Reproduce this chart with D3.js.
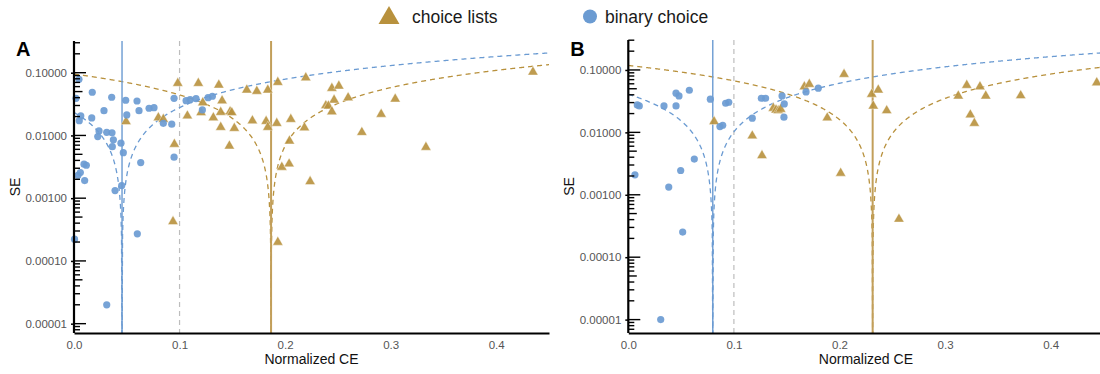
<!DOCTYPE html>
<html>
<head>
<meta charset="utf-8">
<script src="https://cdn.jsdelivr.net/npm/d3@7"></script>
<style>
  body { margin: 0; background: #fff; }
  text { font-family: "Liberation Sans", Arial, sans-serif; }
</style>
</head>
<body>
<script>
var width = 1100
var height = 374

// [normalized CE, SE]
var aBinary = [
  [0.0047, 0.0785], [0.0019, 0.0391], [0.0173, 0.0488], [0.0357, 0.0406], [0.049, 0.0364],
  [0.0597, 0.0354], [0.0064, 0.0205], [0.005, 0.0172], [0.0168, 0.019], [0.0284, 0.0248],
  [0.05, 0.0212], [0.0616, 0.0248], [0.0711, 0.0271], [0.0758, 0.0277], [0.0846, 0.0156],
  [0.0926, 0.0151], [0.0948, 0.0391], [0.0237, 0.0118], [0.0225, 0.0096], [0.031, 0.0112],
  [0.036, 0.011], [0.0373, 0.0085], [0.0363, 0.00663], [0.0445, 0.00752], [0.0467, 0.00532],
  [0.0095, 0.00348], [0.0117, 0.00335], [0.006, 0.00256], [0.0038, 0.00232], [0.0101, 0.00191],
  [0.0632, 0.00369], [0.0948, 0.0045], [0.0452, 0.00159], [0.0389, 0.00132], [0.1062, 0.0358],
  [0.11, 0.0372], [0.1156, 0.0385], [0.1216, 0.0255], [0.127, 0.04], [0.1311, 0.0421],
  [0.06, 0.00027], [0.031, 0.00002], [0.0005, 0.000222]
]
var aLists = [
  [0.0493, 0.0166], [0.0799, 0.0192], [0.0846, 0.0181], [0.0983, 0.0678], [0.1178, 0.0678],
  [0.1372, 0.0637], [0.1403, 0.0358], [0.122, 0.0333], [0.1074, 0.0205], [0.1204, 0.0231],
  [0.132, 0.0192], [0.139, 0.0234], [0.1479, 0.0239], [0.1495, 0.0231], [0.139, 0.0135],
  [0.1519, 0.013], [0.1472, 0.00681], [0.1637, 0.0531], [0.1732, 0.0506], [0.1836, 0.0531],
  [0.1931, 0.0703], [0.169, 0.0172], [0.182, 0.0168], [0.1836, 0.0135], [0.1921, 0.0156],
  [0.0951, 0.00725], [0.2196, 0.0832], [0.2443, 0.0565], [0.2509, 0.0614], [0.2464, 0.0367],
  [0.2597, 0.04], [0.2386, 0.0299], [0.241, 0.0295], [0.2443, 0.0239], [0.3043, 0.0381],
  [0.291, 0.0218], [0.4348, 0.1026], [0.2054, 0.0181], [0.2183, 0.0133], [0.2727, 0.0112],
  [0.2041, 0.00817], [0.3334, 0.00649], [0.1969, 0.00312], [0.2038, 0.00352], [0.2237, 0.00184],
  [0.1931, 0.000199], [0.0938, 0.000424]
]
var bBinary = [
  [0.0063, 0.00209], [0.0085, 0.0275], [0.0104, 0.0265], [0.0338, 0.0265], [0.0452, 0.0424],
  [0.048, 0.0384], [0.0578, 0.0473], [0.0452, 0.0265], [0.0777, 0.034], [0.0922, 0.0293],
  [0.0951, 0.0304], [0.0868, 0.0124], [0.0894, 0.013], [0.0625, 0.00373], [0.0496, 0.00245],
  [0.0383, 0.00133], [0.126, 0.0352], [0.13, 0.0352], [0.1174, 0.0169], [0.1456, 0.0384],
  [0.1477, 0.0286], [0.1474, 0.0175], [0.1683, 0.0445], [0.1799, 0.051], [0.0515, 0.000253],
  [0.0307, 0.00001]
]
var bLists = [
  [0.0812, 0.0149], [0.1174, 0.00879], [0.1266, 0.00425], [0.1373, 0.0244], [0.1399, 0.0229],
  [0.142, 0.0223], [0.1443, 0.0235], [0.1667, 0.054], [0.1714, 0.059], [0.1884, 0.0171],
  [0.2011, 0.00222], [0.2043, 0.0853], [0.2305, 0.0409], [0.2367, 0.0479], [0.232, 0.0265],
  [0.2447, 0.0223], [0.3205, 0.0569], [0.333, 0.054], [0.3125, 0.0384], [0.3385, 0.0384],
  [0.3716, 0.0388], [0.3239, 0.0191], [0.3277, 0.014], [0.4436, 0.0626], [0.2563, 0.000408]
]

// estimated means (solid verticals); dashed funnels are mean +/- 1.96 SE
var meansA = [0.0455, 0.1867]   // binary, lists
var meansB = [0.080, 0.2314]
var refLine = 0.1
var xTicks = [0, 0.1, 0.2, 0.3, 0.4]
var yTicks = [0.00001, 0.0001, 0.001, 0.01, 0.1]
var legendLabels = ['choice lists', 'binary choice']

var blue = '#6b9bd2'
var gold = '#b8913d'

var svg = d3.select('body').append('svg')
    .attr('width', width)
    .attr('height', height)

// legend
var leg = svg.append('g')
leg.append('path')
    .attr('d', d3.symbol(d3.symbolTriangle, 190)())
    .attr('transform', 'translate(389,18)')
    .attr('fill', gold)
leg.append('text').attr('x', 412).attr('y', 23).attr('font-size', 17.5).attr('fill', '#1a1a1a').text(legendLabels[0])
leg.append('circle').attr('cx', 590).attr('cy', 16.5).attr('r', 7).attr('fill', blue)
leg.append('text').attr('x', 605).attr('y', 23).attr('font-size', 17.5).attr('fill', '#1a1a1a').text(legendLabels[1])

var panels = [
  { name: 'A', left: 74, right: 549, top: 41, bottom: 333, yDom: [7.1e-6, 0.32], binary: aBinary, lists: aLists, means: meansA },
  { name: 'B', left: 628.3, right: 1103.5, top: 40, bottom: 333, yDom: [6.1e-6, 0.302], binary: bBinary, lists: bLists, means: meansB }
]

panels.forEach(function(p, pi) {
  var x = d3.scaleLinear().domain([0, 0.45]).range([p.left, p.right])
  var y = d3.scaleLog().domain(p.yDom).range([p.bottom, p.top])
  var g = svg.append('g')

  g.append('clipPath').attr('id', 'clip' + pi)
    .append('rect')
    .attr('x', p.left).attr('y', p.top)
    .attr('width', p.right - p.left).attr('height', p.bottom - p.top)

  var plot = g.append('g').attr('clip-path', 'url(#clip' + pi + ')')

  // dashed reference at 0.1
  plot.append('line')
      .attr('x1', x(refLine)).attr('x2', x(refLine))
      .attr('y1', p.top).attr('y2', p.bottom)
      .attr('stroke', '#bdbdbd').attr('stroke-width', 1.2)
      .attr('stroke-dasharray', '5,4')

  // funnel curves
  var funnel = function(mu) {
    var pts = []
    var xs = d3.range(0, 0.4501, 0.0005).concat([mu]).sort(d3.ascending)
    xs.forEach(function(v) {
      var se = Math.abs(v - mu) / 1.96
      pts.push([v, Math.max(se, p.yDom[0] * 0.5)])
    })
    return pts
  }
  var line = d3.line().x(d => x(d[0])).y(d => y(d[1]))
  var colors = [blue, gold]
  p.means.forEach(function(mu, i) {
    plot.append('path')
        .attr('d', line(funnel(mu)))
        .attr('fill', 'none')
        .attr('stroke', colors[i])
        .attr('stroke-width', 1.3)
        .attr('stroke-dasharray', '5,4')
  })

  // solid mean lines
  plot.append('line')
      .attr('x1', x(p.means[0])).attr('x2', x(p.means[0]))
      .attr('y1', p.top).attr('y2', p.bottom)
      .attr('stroke', blue).attr('stroke-width', 1.4)
  plot.append('line')
      .attr('x1', x(p.means[1])).attr('x2', x(p.means[1]))
      .attr('y1', p.top).attr('y2', p.bottom)
      .attr('stroke', '#c29f5a').attr('stroke-width', 2)

  // points
  g.append('g').selectAll('path')
    .data(p.lists).enter().append('path')
      .attr('d', d3.symbol(d3.symbolTriangle, 46)())
      .attr('transform', d => 'translate(' + x(d[0]) + ',' + y(d[1]) + ')')
      .attr('fill', gold).attr('fill-opacity', 0.9)
      .attr('stroke', '#fff').attr('stroke-width', 0.4)
  g.append('g').selectAll('circle')
    .data(p.binary).enter().append('circle')
      .attr('cx', d => x(d[0])).attr('cy', d => y(d[1]))
      .attr('r', 3.6)
      .attr('fill', blue).attr('fill-opacity', 0.92)

  // x axis
  var xAxis = g.append('g')
      .attr('transform', 'translate(0,' + p.bottom + ')')
      .call(d3.axisBottom(x).tickValues(xTicks).tickFormat(d3.format('.1f')).tickSize(0).tickPadding(8))
  xAxis.select('.domain').attr('stroke', '#000').attr('stroke-width', 2.2)
  xAxis.selectAll('text').attr('font-size', 11.5).attr('fill', '#555')
      .style('font-family', '"Liberation Sans", Arial, sans-serif')

  // y axis with log ticks
  var yAxis = g.append('g')
      .attr('transform', 'translate(' + p.left + ',0)')
      .call(d3.axisLeft(y).tickValues(yTicks).tickFormat(d3.format('.5f')).tickSize(3).tickPadding(4))
  yAxis.select('.domain').attr('stroke', '#000').attr('stroke-width', 2.2)
      .attr('d', 'M0,' + p.top + 'V' + p.bottom)
  yAxis.selectAll('.tick line').attr('stroke', '#000').attr('stroke-width', 1.5)
  yAxis.selectAll('text').attr('font-size', 11.5).attr('fill', '#555')
      .style('font-family', '"Liberation Sans", Arial, sans-serif')

  var logTicks = []
  for (var e = -6; e <= 0; e++) {
    for (var k = 1; k <= 9; k++) {
      var v = k * Math.pow(10, e)
      if (v >= p.yDom[0] && v <= p.yDom[1]) logTicks.push({ v: v, k: k })
    }
  }
  g.append('g').selectAll('line')
    .data(logTicks).enter().append('line')
      .attr('x1', p.left).attr('x2', d => p.left + (d.k === 1 ? 12 : d.k === 5 ? 8.5 : 6))
      .attr('y1', d => y(d.v)).attr('y2', d => y(d.v))
      .attr('stroke', '#000').attr('stroke-width', 1.4)

  // titles
  g.append('text')
      .attr('x', (p.left + p.right) / 2).attr('y', 364)
      .attr('text-anchor', 'middle').attr('font-size', 14).attr('fill', '#111')
      .text('Normalized CE')
  g.append('text')
      .attr('transform', 'translate(' + (p.left - 54) + ',' + ((p.top + p.bottom) / 2) + ') rotate(-90)')
      .attr('text-anchor', 'middle').attr('font-size', 14).attr('fill', '#111')
      .text('SE')
  g.append('text')
      .attr('x', p.left - 58).attr('y', 56)
      .attr('font-size', 20).attr('font-weight', 'bold').attr('fill', '#000')
      .text(p.name)
})
</script>
</body>
</html>
